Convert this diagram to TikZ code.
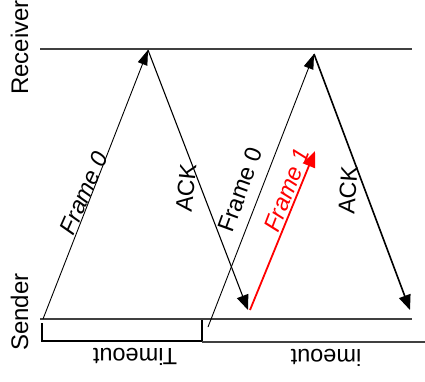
\documentclass[tikz,border=0pt]{standalone}
\usepackage{fontspec}
\setmainfont{Liberation Sans}
\usetikzlibrary{arrows.meta}
\definecolor{ink}{RGB}{0,0,0}
\definecolor{rail}{RGB}{64,64,64}
\definecolor{lostred}{RGB}{255,0,0}
\tikzset{
  railln/.style={draw=rail, line width=1.3pt},
  boxln/.style={draw=ink, line width=1.1pt},
  frmln/.style={draw=ink, line width=0.9pt, -{Triangle[length=15pt, width=10pt]}},
  ackln/.style={draw=ink, line width=1.3pt, -{Triangle[length=15pt, width=12pt]}},
  lbl/.style={font=\fontsize{23.5}{27}\selectfont, inner sep=0pt, text=ink},
  sidelbl/.style={font=\fontsize{24}{28}\selectfont, inner sep=0pt, rotate=90,
    anchor=base west},
}
\begin{document}
\begin{tikzpicture}[x=1pt,y=-1pt]
  \useasboundingbox (0,0) rectangle (425,382);
  % time lines
  \coordinate (rcvA) at (40,49);
  \coordinate (rcvB) at (412,49);
  \coordinate (sndA) at (40,319);
  \coordinate (sndB) at (412,319);
  \draw[railln] (rcvA) -- (rcvB);
  \draw[railln] (sndA) -- (sndB);
  \node[sidelbl] (rcv) at (28,95) {Receiver};
  \node[sidelbl] (snd) at (28,351) {Sender};
  % events
  \coordinate (f0s) at (43,319);
  \coordinate (f0r) at (148,50);
  \coordinate (a0s) at (248,310);
  \coordinate (f1s) at (250,310);
  \coordinate (f1e) at (315,151);
  \coordinate (g0s) at (208,327);
  \coordinate (g0r) at (314,54);
  \coordinate (a1s) at (410,310);
  \draw[frmln] (f0s) -- (f0r);
  \draw[ackln, line width=1.1pt] (f0r) -- (a0s);
  \draw[ackln, draw=lostred, line width=1.8pt, -{Triangle[length=16pt, width=13pt]}] (f1s) -- (f1e);
  \draw[frmln] (g0s) -- (g0r);
  \draw[ackln, line width=1.6pt] (g0r) -- (a1s);
  % labels on the messages
  \node[lbl, rotate=66] (f0lbl) at (84,193) {\itshape Frame 0};
  \node[lbl, rotate=84] (a0lbl) at (186,188) {ACK};
  \node[lbl, rotate=70] (g0lbl) at (240,190) {Frame 0};
  \node[lbl, rotate=69, text=lostred] (f1lbl) at (287,190) {\itshape Frame 1};
  \node[lbl, rotate=86] (a1lbl) at (348,190) {ACK};
  % timeout boxes
  \coordinate (t0a) at (42,323);
  \coordinate (t0b) at (202,341);
  \coordinate (t1a) at (202,320);
  \coordinate (t1b) at (425,342);
  \draw[boxln] (t0a) |- (t0b) -- (202,322);
  \draw[boxln] (t1a) -- (202,342);
  \draw[railln, line width=1.6pt] (202,342) -- (t1b);
  \node[lbl, rotate=180] (t0lbl) at (135,357) {Timeout};
  \node[lbl, rotate=180] (t1lbl) at (326,358) {imeout};
\end{tikzpicture}
\end{document}
